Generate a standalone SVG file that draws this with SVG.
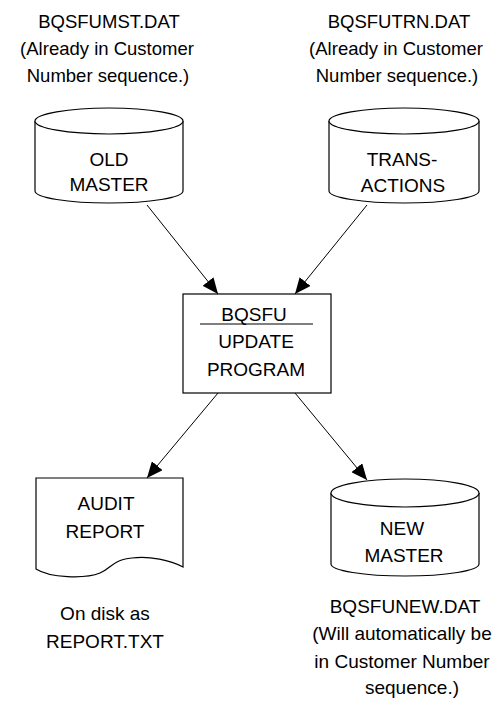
<svg xmlns="http://www.w3.org/2000/svg" width="496" height="706" viewBox="0 0 496 706">
<defs>
<style>
text{font-family:"Liberation Sans",Arial,sans-serif;font-size:19px;fill:#000;text-anchor:middle}
.lbl{font-size:18.5px}
.shape{fill:#fff;stroke:#000;stroke-width:1.2}
.conn{stroke:#000;stroke-width:1;fill:none;marker-end:url(#arr)}
</style>
<marker id="arr" markerWidth="16" markerHeight="14" refX="16" refY="7" orient="auto" markerUnits="userSpaceOnUse">
<path d="M0,0 L16,7 L0,14 z" fill="#000"/>
</marker>
</defs>
<rect width="496" height="706" fill="#fff"/>
<g id="label-oldmaster">
<text class="lbl" x="109" y="28">BQSFUMST.DAT</text>
<text class="lbl" x="107" y="55">(Already in Customer</text>
<text class="lbl" x="108" y="82">Number sequence.)</text>
</g>
<g id="label-trans">
<text class="lbl" x="399" y="28">BQSFUTRN.DAT</text>
<text class="lbl" x="396" y="55">(Already in Customer</text>
<text class="lbl" x="397" y="82">Number sequence.)</text>
</g>
<g id="old-master">
<path class="shape" d="M35,121 L35,191 A74,12 0 0 0 183,191 L183,121"/>
<ellipse class="shape" cx="109" cy="121" rx="74" ry="13"/>
<text x="109" y="166">OLD</text>
<text x="109" y="191">MASTER</text>
</g>
<g id="transactions">
<path class="shape" d="M329,121 L329,191 A75,12 0 0 0 479,191 L479,121"/>
<ellipse class="shape" cx="404" cy="121" rx="75" ry="13"/>
<text x="402" y="166">TRANS-</text>
<text x="403" y="192">ACTIONS</text>
</g>
<g id="update-program">
<rect class="shape" x="183" y="294" width="148" height="99"/>
<text x="254" y="321">BQSFU</text>
<line x1="200" y1="324" x2="313" y2="324" stroke="#000" stroke-width="1"/>
<text x="256" y="348">UPDATE</text>
<text x="256" y="376">PROGRAM</text>
</g>
<g id="audit-report">
<path class="shape" d="M36,478 L183,478 L183,567 C170,560 150,556 132,558 C112,560 112,568 100,573 C85,579 50,578 36,569 Z"/>
<text x="106" y="510">AUDIT</text>
<text x="105" y="538">REPORT</text>
</g>
<g id="label-report">
<text x="105" y="620">On disk as</text>
<text x="105" y="648">REPORT.TXT</text>
</g>
<g id="new-master">
<path class="shape" d="M331,493 L331,564 A74,12 0 0 0 479,564 L479,493"/>
<ellipse class="shape" cx="405" cy="493" rx="74" ry="14"/>
<text x="402" y="535">NEW</text>
<text x="404" y="562">MASTER</text>
</g>
<g id="label-newmaster">
<text x="405" y="613">BQSFUNEW.DAT</text>
<text x="402" y="640">(Will automatically be</text>
<text x="402" y="668">in Customer Number</text>
<text x="412" y="694">sequence.)</text>
</g>
<g id="connectors">
<line class="conn" x1="147" y1="205" x2="218" y2="294"/>
<line class="conn" x1="367" y1="205" x2="295" y2="294"/>
<line class="conn" x1="218" y1="393" x2="147" y2="478"/>
<line class="conn" x1="295" y1="393" x2="367" y2="480"/>
</g>
</svg>
